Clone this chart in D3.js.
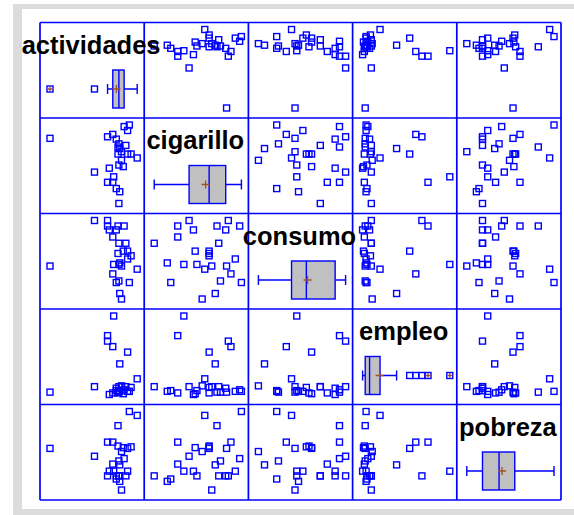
<!DOCTYPE html>
<html>
<head>
<meta charset="utf-8">
<script src="https://cdn.jsdelivr.net/npm/d3@7"></script>
<style>
  body { margin: 0; background: #fff; }
</style>
</head>
<body>
<script>
// variables of the matrix (same order on rows and columns)
var variables = ["actividades", "cigarillo", "consumo", "empleo", "pobreza"];

var actividades = [79, 80, 76, 66, 72, 73, 51, 68, 84, 79, 82, 100, 89, 78, 93, 82, 80, 78, 87, 79, 76, 0, 66, 72, 89, 85, 91];
var cigarillo   = [0, 15, 19, 27, 27, 34, 40, 45, 47, 49, 55, 58, 63, 63, 63, 66, 70, 72, 74, 76, 82, 83, 85, 88, 93, 98, 100];
var consumo     = [71, 46, 21, 93, 79, 44, 100, 88, 61, 44, 0, 38, 61, 58, 55, 42, 7, 93, 71, 23, 88, 42, 100, 32, 51, 93, 21];
var empleo      = [10, 4, 5, 75, 2, 100, 10, 0, 1, 5, 11, 20, 54, 2, 9, 10, 39, 3, 10, 3, 8, 3, 68, 61, 4, 6, 4];
var pobreza     = [18, 11, 14, 61, 33, 24, 43, 24, 54, 18, 49, 95, 53, 56, 55, 0, 32, 82, 18, 37, 18, 53, 18, 61, 24, 40, 100];

var columns = [actividades, cigarillo, consumo, empleo, pobreza];

var width = 574, height = 515;
var gridX0 = 40, gridX1 = 561, gridY0 = 22.5, gridY1 = 500;
var n = variables.length;
var cellW = (gridX1 - gridX0) / n, cellH = (gridY1 - gridY0) / n;
var blue = "#0000ff", brown = "#a0522d", boxFill = "#c0c0c0";
var sq = 6;

var svg = d3.select("body")
            .append("svg")
            .attr("width", width)
            .attr("height", height);

// gray frame round the plot area
svg.append("rect")
   .attr("x", 13).attr("y", 4)
   .attr("width", width - 13).attr("height", height - 4)
   .attr("fill", "#dcdcdc");
svg.append("rect")
   .attr("x", 22).attr("y", 9)
   .attr("width", width - 22).attr("height", 500)
   .attr("fill", "#ffffff");

// SAS style percentile (definition 5)
function pctl(sorted, p) {
  var np = sorted.length * p, j = Math.floor(np), g = np - j;
  if (g > 1e-9) return sorted[j];
  return (sorted[j - 1] + sorted[j]) / 2;
}

function xScale(col) {
  var left = gridX0 + col * cellW;
  return d3.scaleLinear().domain(d3.extent(columns[col])).range([left + 10, left + cellW - 7]);
}
function yScale(row) {
  var top = gridY0 + row * cellH;
  return d3.scaleLinear().domain(d3.extent(columns[row])).range([top + cellH - 10, top + 7]);
}

function square(g, cx, cy) {
  g.append("rect")
   .attr("x", cx - sq / 2).attr("y", cy - sq / 2)
   .attr("width", sq).attr("height", sq)
   .attr("fill", "none")
   .attr("stroke", blue)
   .attr("stroke-width", 1.4);
}
function plus(g, cx, cy, r) {
  g.append("path")
   .attr("d", "M" + (cx - r) + "," + cy + "H" + (cx + r) + "M" + cx + "," + (cy - r) + "V" + (cy + r))
   .attr("stroke", brown)
   .attr("stroke-width", 1.3)
   .attr("fill", "none");
}

var marks = svg.append("g");

for (var row = 0; row < n; row++) {
  for (var col = 0; col < n; col++) {
    var x = xScale(col);
    if (row !== col) {
      // scatter cell: x = column variable, y = row variable
      var y = yScale(row);
      for (var k = 0; k < columns[col].length; k++) {
        square(marks, x(columns[col][k]), y(columns[row][k]));
      }
    } else {
      // diagonal: horizontal box plot
      var vals = columns[col].slice().sort(d3.ascending);
      var q1 = pctl(vals, 0.25), med = pctl(vals, 0.5), q3 = pctl(vals, 0.75);
      var iqr = q3 - q1;
      var lo = q1 - 1.5 * iqr, hi = q3 + 1.5 * iqr;
      var farLo = q1 - 3 * iqr, farHi = q3 + 3 * iqr;
      var wLo = d3.min(vals.filter(function(v) { return v >= lo; }));
      var wHi = d3.max(vals.filter(function(v) { return v <= hi; }));
      var bottom = gridY0 + (row + 1) * cellH;
      var bTop = bottom - 48, bBot = bottom - 10, cy = (bTop + bBot) / 2;

      // whiskers
      marks.append("path")
           .attr("d", "M" + x(wLo) + "," + cy + "H" + x(q1) + "M" + x(q3) + "," + cy + "H" + x(wHi) +
                      "M" + x(wLo) + "," + (cy - 5) + "V" + (cy + 5) +
                      "M" + x(wHi) + "," + (cy - 5) + "V" + (cy + 5))
           .attr("stroke", blue)
           .attr("stroke-width", 1.4)
           .attr("fill", "none");
      // box
      marks.append("rect")
           .attr("x", x(q1)).attr("y", bTop)
           .attr("width", x(q3) - x(q1)).attr("height", bBot - bTop)
           .attr("fill", boxFill)
           .attr("stroke", blue)
           .attr("stroke-width", 1.4);
      // median
      marks.append("line")
           .attr("x1", x(med)).attr("x2", x(med))
           .attr("y1", bTop).attr("y2", bBot)
           .attr("stroke", blue)
           .attr("stroke-width", 1.4);
      // mean
      plus(marks, x(d3.mean(vals)), cy, 4);
      // outliers
      vals.forEach(function(v) {
        if (v < lo || v > hi) {
          square(marks, x(v), cy);
          if (v < farLo || v > farHi) plus(marks, x(v), cy, 2.5);
        }
      });
    }
  }
}

// grid lines
var grid = svg.append("g");
for (var i = 0; i <= n; i++) {
  grid.append("line")
      .attr("x1", gridX0 + i * cellW).attr("x2", gridX0 + i * cellW)
      .attr("y1", gridY0).attr("y2", gridY1)
      .attr("stroke", blue).attr("stroke-width", 1.7);
  grid.append("line")
      .attr("x1", gridX0).attr("x2", gridX1)
      .attr("y1", gridY0 + i * cellH).attr("y2", gridY0 + i * cellH)
      .attr("stroke", blue).attr("stroke-width", 1.7);
}

// variable names on the diagonal
svg.append("g")
   .selectAll("text")
   .data(variables)
   .join("text")
   .attr("x", function(d, i) { return gridX0 + (i + 0.5) * cellW - 1; })
   .attr("y", function(d, i) { return gridY0 + i * cellH + 31; })
   .attr("text-anchor", "middle")
   .attr("font-family", "'Liberation Sans', Arial, sans-serif")
   .attr("font-weight", "bold")
   .attr("font-size", "25.5px")
   .attr("fill", "#000")
   .text(function(d) { return d; });
</script>
</body>
</html>
